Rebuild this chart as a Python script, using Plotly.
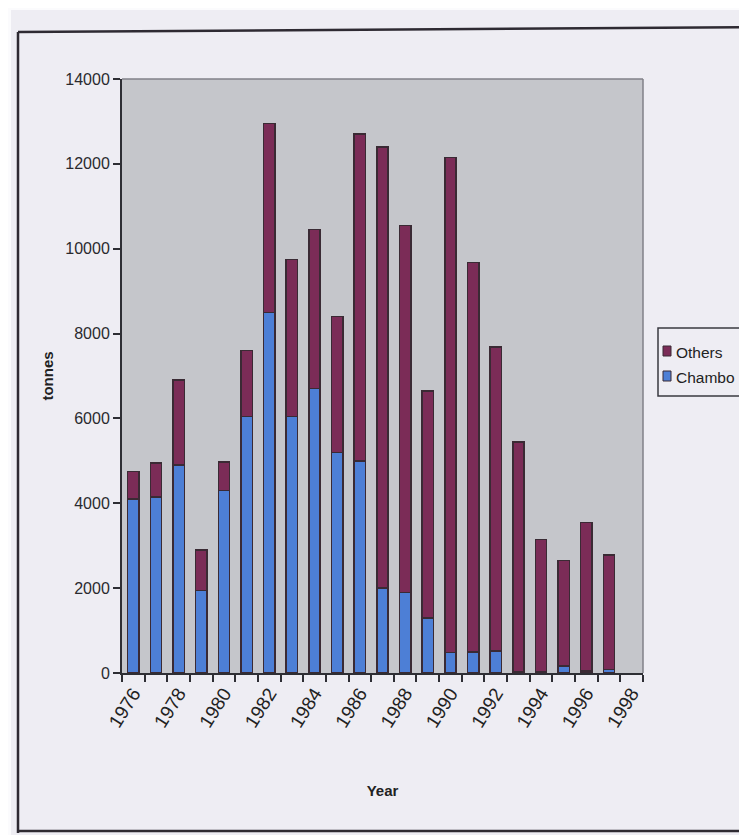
import plotly.graph_objects as go

years = list(range(1976, 1998))
chambo = [4100, 4150, 4900, 1950, 4300, 6050, 8500, 6050, 6700, 5200, 5000,
          2000, 1900, 1300, 480, 500, 520, 30, 30, 170, 50, 80]
others = [650, 800, 2000, 950, 670, 1550, 4450, 3700, 3750, 3200, 7700,
          10400, 8650, 5350, 11670, 9180, 7160, 5420, 3120, 2480, 3500, 2700]
tick_years = list(range(1976, 1999, 2))
y_ticks = list(range(0, 14001, 2000))
legend_names = ["Others", "Chambo"]

OFF = 8  # page body margin
W, H = 747, 835
# target plot area in screen pixels
SX0, SX1, SY0, SY1 = 122, 643, 79, 673
L = SX0 - OFF
T = SY0 - OFF
pw = SX1 - SX0
ph = SY1 - SY0
R = W - L - pw
B = H - T - ph

C_OTH = "#7b2c57"
C_CHA = "#4d7fd6"
C_EDGE = "#3a2a34"


def px(x):
    return (x - SX0) / pw


def py(y):
    return (SY1 - y) / ph


fig = go.Figure()
fig.add_trace(go.Bar(x=years, y=chambo, name="Chambo", width=0.5,
                     marker=dict(color=C_CHA, line=dict(color=C_EDGE, width=1.5))))
fig.add_trace(go.Bar(x=years, y=others, name="Others", width=0.5,
                     marker=dict(color=C_OTH, line=dict(color=C_EDGE, width=1.5))))

shapes = [
    # white scan margins
    dict(type="rect", xref="paper", yref="paper", x0=px(-20), x1=px(780), y0=py(-20), y1=py(10),
         fillcolor="#fbfbfd", line=dict(width=0), layer="below"),
    dict(type="rect", xref="paper", yref="paper", x0=px(-20), x1=px(11), y0=py(-20), y1=py(860),
         fillcolor="#fbfbfd", line=dict(width=0), layer="below"),
    # outer frame
    dict(type="line", xref="paper", yref="paper", x0=px(18), x1=px(780), y0=py(32), y1=py(27),
         line=dict(color="#2e2a32", width=2.5)),
    dict(type="line", xref="paper", yref="paper", x0=px(18), x1=px(18), y0=py(32), y1=py(833),
         line=dict(color="#2e2a32", width=2.5)),
    dict(type="line", xref="paper", yref="paper", x0=px(18), x1=px(780), y0=py(831), y1=py(831),
         line=dict(color="#2e2a32", width=2.5)),
    # plot area top/right border
    dict(type="line", xref="paper", yref="paper", x0=0, x1=1, y0=1, y1=1,
         line=dict(color="#808088", width=1.5)),
    dict(type="line", xref="paper", yref="paper", x0=1, x1=1, y0=0, y1=1,
         line=dict(color="#808088", width=1.5)),
    # legend box
    dict(type="rect", xref="paper", yref="paper", x0=px(658), x1=px(790), y0=py(328), y1=py(396),
         fillcolor="#eeedf3", line=dict(color="#3a3a40", width=1.5)),
]

annotations = []
leg_colors = [C_OTH, C_CHA]
leg_y = [352, 377]
for name, col, yy in zip(legend_names, leg_colors, leg_y):
    shapes.append(dict(type="rect", xref="paper", yref="paper",
                       x0=px(663), x1=px(671), y0=py(yy - 6), y1=py(yy + 4),
                       fillcolor=col, line=dict(color=C_EDGE, width=1)))
    annotations.append(dict(text=name, xref="paper", yref="paper", x=px(674), y=py(yy),
                            xanchor="left", yanchor="middle", showarrow=False,
                            font=dict(size=15.5, color="#222",
                                      family="Liberation Sans Narrow, Liberation Sans, Arial")))

fig.update_layout(
    width=W, height=H,
    margin=dict(l=L, r=R, t=T, b=B, autoexpand=False),
    barmode="stack",
    bargap=0.5,
    paper_bgcolor="#eeedf3",
    plot_bgcolor="#c5c6cb",
    font=dict(family="Liberation Sans, Arial, sans-serif", color="#2a2a2e"),
    shapes=shapes,
    annotations=annotations,
    showlegend=False,
    xaxis=dict(
        range=[1975.5, 1998.5], automargin=False,
        tickmode="array", tickvals=tick_years, ticktext=[str(v) for v in tick_years],
        tickangle=-58, ticks="", tickfont=dict(size=19, color="#222"),
        showline=True, linecolor="#2e2e34", linewidth=2,
        showgrid=False, zeroline=False,
        minor=dict(ticks="outside", tick0=1975.5, dtick=1, ticklen=7,
                   tickcolor="#2e2e34", tickwidth=2, showgrid=False),
        title=dict(text="<b>Year</b>", font=dict(size=15, color="#222"), standoff=55),
    ),
    yaxis=dict(
        range=[0, 14000], automargin=False, tickmode="array", tickvals=y_ticks,
        ticktext=[str(v) for v in y_ticks],
        ticks="outside", ticklen=7, tickwidth=2, tickcolor="#2e2e34",
        tickfont=dict(size=16, color="#2a2a2e",
                      family="Liberation Sans Narrow, Liberation Sans, Arial"),
        showline=True, linecolor="#2e2e34", linewidth=2,
        showgrid=False, zeroline=False,
        title=dict(text="<b>tonnes</b>", font=dict(size=15, color="#222"), standoff=8),
    ),
)

fig.write_html("out.html")
